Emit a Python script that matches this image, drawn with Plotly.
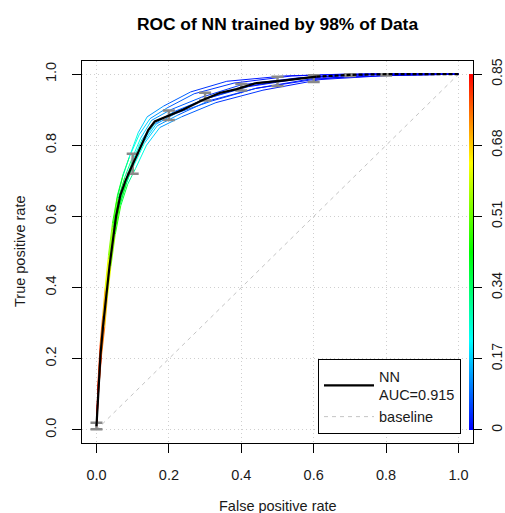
import colorsys
import plotly.graph_objects as go

# ---------------- data ----------------
cutoffs = [0.85, 0.82, 0.78, 0.72, 0.66, 0.58, 0.50, 0.42, 0.34, 0.27,
           0.20, 0.15, 0.10, 0.06, 0.03, 0.01, 0.003, 0.0]

run1_fpr = [0, 0.004, 0.010, 0.017, 0.024, 0.033, 0.044, 0.058, 0.074, 0.092, 0.118, 0.148, 0.195, 0.27, 0.38, 0.54, 0.70, 1.0]
run1_tpr = [0.01, 0.13, 0.24, 0.32, 0.40, 0.49, 0.58, 0.66, 0.72, 0.77, 0.83, 0.875, 0.905, 0.945, 0.975, 0.995, 1.0, 1.0]
run2_fpr = [0, 0.006, 0.014, 0.023, 0.030, 0.040, 0.052, 0.067, 0.086, 0.108, 0.138, 0.175, 0.235, 0.33, 0.46, 0.62, 0.80, 1.0]
run2_tpr = [0.0, 0.11, 0.21, 0.29, 0.37, 0.46, 0.55, 0.63, 0.69, 0.735, 0.80, 0.85, 0.88, 0.92, 0.955, 0.985, 0.996, 1.0]
run3_fpr = [0, 0.005, 0.012, 0.019, 0.026, 0.035, 0.047, 0.060, 0.078, 0.097, 0.122, 0.152, 0.205, 0.29, 0.40, 0.56, 0.74, 1.0]
run3_tpr = [0.02, 0.12, 0.22, 0.31, 0.39, 0.48, 0.57, 0.65, 0.71, 0.76, 0.82, 0.87, 0.90, 0.935, 0.97, 0.99, 1.0, 1.0]
run4_fpr = [0, 0.005, 0.013, 0.021, 0.028, 0.037, 0.049, 0.064, 0.082, 0.104, 0.132, 0.168, 0.225, 0.31, 0.44, 0.60, 0.78, 1.0]
run4_tpr = [0.01, 0.12, 0.22, 0.30, 0.38, 0.47, 0.56, 0.64, 0.70, 0.745, 0.805, 0.855, 0.885, 0.925, 0.96, 0.985, 1.0, 1.0]
run5_fpr = [0, 0.004, 0.011, 0.018, 0.025, 0.034, 0.045, 0.057, 0.072, 0.090, 0.115, 0.140, 0.185, 0.26, 0.36, 0.52, 0.68, 1.0]
run5_tpr = [0.01, 0.12, 0.23, 0.31, 0.39, 0.48, 0.57, 0.65, 0.71, 0.765, 0.835, 0.88, 0.91, 0.95, 0.98, 0.995, 1.0, 1.0]
run6_fpr = [0, 0.006, 0.013, 0.020, 0.027, 0.036, 0.048, 0.063, 0.082, 0.101, 0.127, 0.160, 0.215, 0.30, 0.42, 0.58, 0.76, 1.0]
run6_tpr = [0.01, 0.11, 0.21, 0.29, 0.37, 0.46, 0.55, 0.63, 0.69, 0.745, 0.81, 0.86, 0.895, 0.93, 0.965, 0.99, 1.0, 1.0]
run7_fpr = [0, 0.005, 0.012, 0.020, 0.027, 0.036, 0.047, 0.061, 0.080, 0.099, 0.125, 0.158, 0.210, 0.30, 0.41, 0.57, 0.75, 1.0]
run7_tpr = [0.0, 0.13, 0.23, 0.30, 0.38, 0.47, 0.56, 0.64, 0.70, 0.755, 0.815, 0.865, 0.89, 0.93, 0.965, 0.99, 1.0, 1.0]
run8_fpr = [0, 0.005, 0.012, 0.020, 0.028, 0.038, 0.050, 0.064, 0.083, 0.103, 0.131, 0.165, 0.22, 0.32, 0.44, 0.60, 0.80, 1.0]
run8_tpr = [0.01, 0.12, 0.22, 0.30, 0.37, 0.46, 0.55, 0.63, 0.695, 0.75, 0.81, 0.86, 0.89, 0.925, 0.96, 0.988, 0.996, 1.0]

mean_fpr = [0.0, 0.005, 0.011, 0.018, 0.026, 0.036, 0.045, 0.054, 0.066, 0.080, 0.095, 0.106, 0.124,
            0.143, 0.161, 0.193, 0.239, 0.295, 0.34, 0.387, 0.442, 0.515, 0.608, 0.7, 0.8, 0.9, 1.0]
mean_tpr = [0.01, 0.12, 0.21, 0.29, 0.37, 0.46, 0.53, 0.60, 0.66, 0.70, 0.735, 0.759, 0.797,
            0.843, 0.867, 0.881, 0.90, 0.928, 0.947, 0.958, 0.975, 0.982, 0.993, 0.998, 1.0, 1.0, 1.0]

err_fpr = [0.0, 0.1, 0.2, 0.3, 0.4, 0.5, 0.6, 0.7, 0.8]
err_lo = [0.002, 0.720, 0.871, 0.926, 0.954, 0.967, 0.978, 0.995, 0.996]
err_hi = [0.020, 0.776, 0.898, 0.948, 0.972, 0.993, 0.997, 1.000, 1.000]

baseline_x = [0, 1]
baseline_y = [0, 1]

axis_ticks = [0, 0.2, 0.4, 0.6, 0.8, 1.0]
cbar_ticks = [0, 0.17, 0.34, 0.51, 0.68, 0.85]
cbar_labels = ["0", "0.17", "0.34", "0.51", "0.68", "0.85"]
cut_min, cut_max = 0.0, 0.85

auc_label = "NN<br>AUC=0.915"
title_text = "ROC of NN trained by 98% of Data"

# ---------------- styling helpers ----------------
def rainbow(v):
    f = (v - cut_min) / (cut_max - cut_min)
    f = min(max(f, 0.0), 1.0)
    h = (1.0 - f) * 240.0 / 360.0
    r, g, b = colorsys.hsv_to_rgb(h, 1, 1)
    return "rgb(%d,%d,%d)" % (round(r * 255), round(g * 255), round(b * 255))

n_stops = 13
colorscale = [[i / (n_stops - 1), rainbow(cut_min + (cut_max - cut_min) * i / (n_stops - 1))]
              for i in range(n_stops)]

FONT = "Liberation Sans, Arial, sans-serif"
xr = [-0.04, 1.04]
yr = [-0.037, 1.037]

fig = go.Figure()

# baseline
fig.add_trace(go.Scatter(x=baseline_x, y=baseline_y, mode="lines", name="baseline",
                         line=dict(color="#c4c4c4", width=1, dash="4px,4px"),
                         legendrank=2, hoverinfo="skip"))

# colorized runs
runs = [(run1_fpr, run1_tpr), (run2_fpr, run2_tpr), (run3_fpr, run3_tpr), (run4_fpr, run4_tpr),
        (run5_fpr, run5_tpr), (run6_fpr, run6_tpr), (run7_fpr, run7_tpr), (run8_fpr, run8_tpr)]
for fx, ty in runs:
    for i in range(len(fx) - 1):
        c = 0.5 * (cutoffs[i] + cutoffs[i + 1])
        fig.add_trace(go.Scatter(x=fx[i:i + 2], y=ty[i:i + 2], mode="lines",
                                 line=dict(color=rainbow(c), width=1),
                                 showlegend=False, hoverinfo="skip"))

# error bars (vertical averaging spread)
err_mid = [(a + b) / 2 for a, b in zip(err_lo, err_hi)]
fig.add_trace(go.Scatter(
    x=err_fpr, y=err_mid, mode="markers", marker=dict(size=0.1, color="#8a8a8a"),
    error_y=dict(type="data", symmetric=False,
                 array=[h - m for h, m in zip(err_hi, err_mid)],
                 arrayminus=[m - l for m, l in zip(err_mid, err_lo)],
                 color="#8a8a8a", thickness=2.5, width=6),
    showlegend=False, hoverinfo="skip"))

# averaged curve
k = next(i for i, v in enumerate(mean_fpr) if v >= 0.6)
fig.add_trace(go.Scatter(x=mean_fpr[:k + 1], y=mean_tpr[:k + 1], mode="lines", name=auc_label,
                         line=dict(color="black", width=2.2), legendrank=1, hoverinfo="skip"))
fig.add_trace(go.Scatter(x=mean_fpr[k:], y=mean_tpr[k:], mode="lines",
                         line=dict(color="black", width=2.2, dash="4px,2px"),
                         showlegend=False, hoverinfo="skip"))

# colour key (cutoff scale)
fig.add_trace(go.Scatter(
    x=[0.5] * len(cutoffs), y=cutoffs, yaxis="y2", mode="markers",
    marker=dict(size=0.1, opacity=0, color=cutoffs, colorscale=colorscale,
                cmin=cut_min, cmax=cut_max, showscale=True,
                colorbar=dict(x=1, xref="paper", xanchor="right", xpad=0, ypad=0,
                              thickness=4, lenmode="fraction",
                              len=(1 - 0) / (yr[1] - yr[0]),
                              y=(0 - yr[0]) / (yr[1] - yr[0]), yanchor="bottom",
                              outlinewidth=0, ticks="", showticklabels=False)),
    showlegend=False, hoverinfo="skip"))

axis_common = dict(ticks="outside", ticklen=9, tickwidth=1, tickcolor="black",
                   showline=True, linecolor="black", linewidth=1, mirror=True,
                   showgrid=True, gridcolor="#cfcfcf", griddash="1px,3px", gridwidth=1,
                   zeroline=False, automargin=False,
                   tickfont=dict(family=FONT, size=14.5, color="#1a1a1a"),
                   tickvals=axis_ticks, tickformat=".1f")

fig.update_layout(
    width=505, height=513,
    margin=dict(l=82, r=32, t=61, b=70, autoexpand=False),
    plot_bgcolor="white", paper_bgcolor="white",
    font=dict(family=FONT, size=14.5, color="#1a1a1a"),
    title=dict(text="<b>%s</b>" % title_text, x=0.5, xref="paper", xanchor="center",
               y=1 - 24 / 513, yref="container", yanchor="middle",
               font=dict(family=FONT, size=17.4, color="black")),
    xaxis=dict(range=xr, ticklabelstandoff=10, **axis_common),
    yaxis=dict(range=yr, tickangle=-90, ticklabelstandoff=10, **axis_common),
    yaxis2=dict(overlaying="y", side="right", range=[v * cut_max for v in yr],
                tickvals=cbar_ticks, ticktext=cbar_labels, tickangle=-90,
                ticks="outside", ticklen=8, tickcolor="black", showline=False,
                showgrid=False, zeroline=False, automargin=False, ticklabelstandoff=3,
                tickfont=dict(family=FONT, size=14, color="#1a1a1a")),
    legend=dict(x=(461 - 82) / 391, xanchor="right", y=(443 - 434) / 382, yanchor="bottom",
                bordercolor="black", borderwidth=1, bgcolor="white", itemwidth=50,
                font=dict(family=FONT, size=14.5, color="#1a1a1a")),
    annotations=[
        dict(text="False positive rate", x=0.5, xref="paper", y=0, yref="paper",
             yanchor="top", yshift=-53, showarrow=False,
             font=dict(family=FONT, size=14.5, color="#1a1a1a")),
        dict(text="True positive rate", x=0, xref="paper", y=0.5, yref="paper",
             xanchor="center", yanchor="middle", xshift=-62, textangle=-90, showarrow=False,
             font=dict(family=FONT, size=14.5, color="#1a1a1a")),
    ],
)

fig.write_html("out.html")
